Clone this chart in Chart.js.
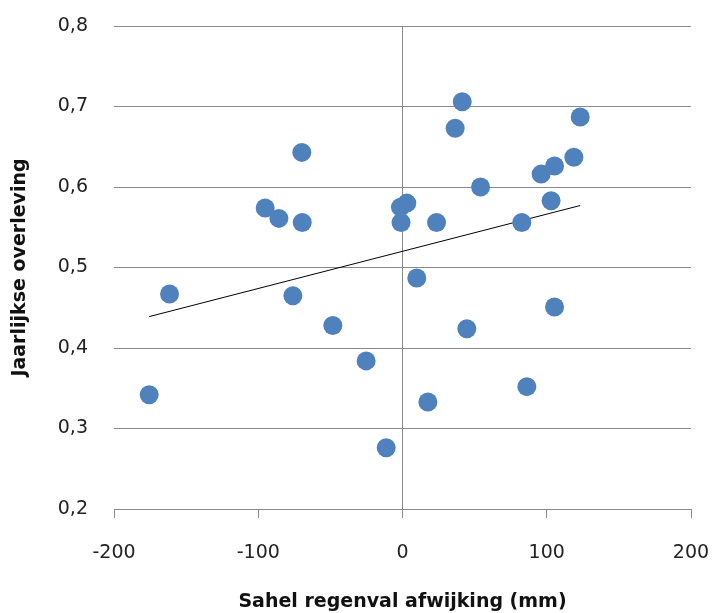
<!DOCTYPE html>
<html>
<head>
<meta charset="utf-8">
<script src="https://cdn.jsdelivr.net/npm/chart.js@4/dist/chart.umd.min.js"></script>
<style>
  html, body { margin: 0; padding: 0; background: #fff; }
  #wrap { width: 715px; height: 613px; }
</style>
</head>
<body>
<div id="wrap"><canvas id="chart" width="715" height="613"></canvas></div>
<script>
// regenval-afwijking (mm) tegen jaarlijkse overleving
const rainDev = [
  -69.8, -95.2, -85.7, -69.5, -161.5, -76.0, 41.4, 36.5, 123.2, 118.8,
  105.4, 96.1, 54.1, 103.0, 3.0, -1.4, -1.0, 23.6, 82.7, 9.9,
  105.4, -48.3, -175.6, -25.2, 44.6, 86.2, 17.6, -11.3
];
const survival = [
  0.643, 0.574, 0.561, 0.556, 0.467, 0.465, 0.706, 0.673, 0.687, 0.637,
  0.626, 0.616, 0.600, 0.583, 0.580, 0.575, 0.556, 0.556, 0.556, 0.487,
  0.451, 0.428, 0.342, 0.384, 0.424, 0.352, 0.333, 0.276
];
// trendlijn (begin- en eindpunt)
const trendX = [-175.6, 123.2];
const trendY = [0.439, 0.577];

const xTicks = [-200, -100, 0, 100, 200];
const yTicks = [0.2, 0.3, 0.4, 0.5, 0.6, 0.7, 0.8];

const GRID = "#8a8a8a";
const FONT = "'DejaVu Sans', sans-serif";

const points = rainDev.map((x, i) => ({ x, y: survival[i] }));
const trend = trendX.map((x, i) => ({ x, y: trendY[i] }));

new Chart(document.getElementById("chart"), {
  type: "scatter",
  data: {
    datasets: [
      {
        data: points,
        backgroundColor: "#4f81bd",
        borderColor: "#4f81bd",
        borderWidth: 0,
        pointRadius: 9.5,
        pointHoverRadius: 9.5,
      },
      {
        type: "line",
        data: trend,
        borderColor: "#000",
        borderWidth: 1,
        pointRadius: 0,
        fill: false,
      },
    ],
  },
  options: {
    responsive: false,
    animation: false,
    layout: { padding: { top: 26, right: 24, left: 0, bottom: 0 } },
    plugins: { legend: { display: false }, tooltip: { enabled: false } },
    scales: {
      x: {
        type: "linear",
        min: -200,
        max: 200,
        afterBuildTicks: (s) => { s.ticks = xTicks.map((v) => ({ value: v })); },
        afterFit: (s) => {
          s.height = 104;
          s.paddingLeft = 0;
          s.paddingRight = 0;
        },
        grid: {
          drawOnChartArea: true,
          color: (c) => (c.tick && c.tick.value === 0 ? GRID : "transparent"),
          tickColor: GRID,
          tickLength: 9,
          lineWidth: 1,
        },
        border: { display: true, color: GRID },
        ticks: {
          color: "#222",
          padding: 24,
          font: { family: FONT, size: 19 },
          callback: (v) => String(v),
        },
        title: {
          display: true,
          text: "Sahel regenval afwijking (mm)",
          color: "#111",
          font: { family: FONT, size: 19, weight: "bold" },
          padding: { top: 0, bottom: 0 },
        },
      },
      y: {
        min: 0.2,
        max: 0.8,
        afterBuildTicks: (s) => { s.ticks = yTicks.map((v) => ({ value: v })); },
        afterFit: (s) => {
          s.width = 114;
          s.paddingTop = 0;
          s.paddingBottom = 0;
        },
        grid: { color: GRID, drawTicks: false, lineWidth: 1 },
        border: { display: false },
        ticks: {
          color: "#222",
          padding: 26,
          font: { family: FONT, size: 19 },
          callback: (v) => v.toFixed(1).replace(".", ","),
        },
        title: {
          display: true,
          text: "Jaarlijkse overleving",
          color: "#111",
          font: { family: FONT, size: 19, weight: "bold" },
          padding: { top: 9, bottom: 0 },
        },
      },
    },
  },
});
</script>
</body>
</html>
